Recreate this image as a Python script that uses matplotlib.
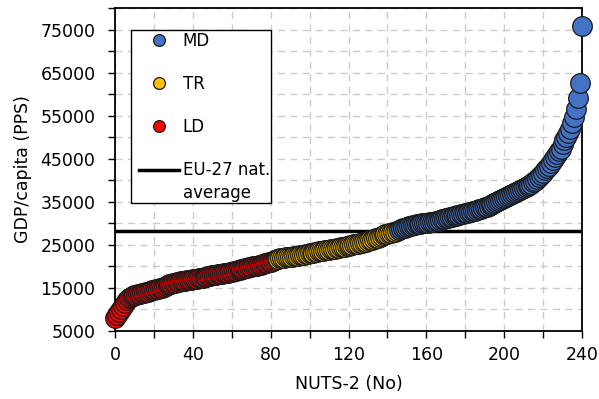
import matplotlib
matplotlib.use("Agg")
import numpy as np
import matplotlib.pyplot as plt
from matplotlib.ticker import MultipleLocator
from matplotlib.lines import Line2D
from matplotlib.legend_handler import HandlerLine2D

ld_values = [8000, 8800, 9500, 10200, 10900, 11600, 12200, 12700, 13000, 13200,
             13350, 13450, 13550, 13650, 13750, 13850, 14000, 14150, 14300, 14420,
             14550, 14650, 14800, 14950, 15080, 15200, 15400, 15600, 15800, 15950,
             16080, 16200, 16300, 16420, 16520, 16600, 16680, 16760, 16850, 16930,
             17000, 17080, 17150, 17230, 17300, 17400, 17500, 17600, 17700, 17800,
             17900, 17980, 18060, 18150, 18230, 18300, 18380, 18450, 18520, 18600,
             18720, 18850, 18980, 19100, 19200, 19300, 19420, 19550, 19680, 19800,
             19900, 20000, 20100, 20200, 20300, 20400, 20550, 20700, 20850, 20980,
             21100, 21300, 21500]
tr_values = [21700, 21780, 21850, 21920, 22000, 22070, 22140, 22200, 22280, 22360,
             22440, 22520, 22600, 22680, 22760, 22840, 22920, 23000, 23100, 23200,
             23300, 23400, 23500, 23580, 23660, 23740, 23820, 23900, 23980, 24060,
             24140, 24220, 24300, 24400, 24500, 24600, 24700, 24800, 24900, 25000,
             25100, 25200, 25300, 25420, 25540, 25660, 25780, 25900, 26060, 26220,
             26380, 26540, 26700, 26900, 27100, 27300, 27450, 27600, 27700, 27800,
             27900, 28050, 28200]
md_values = [28500, 28700, 28850, 29000, 29200, 29320, 29440, 29560, 29680, 29800,
             29860, 29920, 29980, 30040, 30100, 30180, 30260, 30340, 30420, 30500,
             30640, 30780, 30920, 31060, 31200, 31320, 31440, 31560, 31680, 31800,
             31900, 32000, 32100, 32200, 32300, 32420, 32540, 32660, 32780, 32900,
             33060, 33220, 33380, 33540, 33700, 33900, 34100, 34300, 34500, 34700,
             34920, 35140, 35360, 35580, 35800, 36040, 36280, 36520, 36760, 37000,
             37240, 37480, 37720, 37960, 38200, 38460, 38720, 38980, 39240, 39500,
             39900, 40300, 40700, 41250, 41800, 42300, 42800, 43400, 44000, 44700,
             45400, 46000, 46700, 47300, 48400, 49300, 50000, 51000, 52000, 53300,
             54700, 56500, 59000, 62700, 75900]
eu_average = 28300

groups = [("LD", ld_values, "#FF0000"), ("TR", tr_values, "#FFC000"), ("MD", md_values, "#4472C4")]

plt.rcParams['font.family'] = ['DejaVu Sans']
fs = 12.5


class ShiftHandler(HandlerLine2D):
    def __init__(self, dx=0.0, dy=0.0, trim=0.0, **kw):
        super().__init__(**kw)
        self.dx, self.dy, self.trim = dx, dy, trim

    def create_artists(self, legend, orig_handle, xdescent, ydescent, width, height, fontsize, trans):
        arts = super().create_artists(legend, orig_handle, xdescent, ydescent, width, height, fontsize, trans)
        for a in arts:
            if isinstance(a, Line2D):
                xd = np.asarray(a.get_xdata(), dtype=float)
                yd = np.asarray(a.get_ydata(), dtype=float)
                if self.trim and len(xd) > 1:
                    xd = np.linspace(xd.min() + self.trim, xd.max(), len(xd))
                a.set_xdata(xd + self.dx)
                a.set_ydata(yd + self.dy)
        return arts


fig = plt.figure(figsize=(5.99, 3.99), dpi=100)
ax = fig.add_axes([115/599, 1-331/399, 467/599, 323/399])

ax.axhline(eu_average, color='black', lw=2.5, zorder=2)

start = 0
for name, vals, col in groups:
    xs = list(range(start, start + len(vals)))
    for x, v in zip(xs, vals):
        ax.scatter([x], [v], s=200, color=col, edgecolors='#1a1a1a', linewidths=0.9, zorder=3, clip_on=False)
    start += len(vals)

ax.set_xlim(0, 240)
ax.set_ylim(5000, 80000)
ax.xaxis.set_major_locator(MultipleLocator(40))
ax.xaxis.set_minor_locator(MultipleLocator(20))
ax.set_yticks([5000, 15000, 25000, 35000, 45000, 55000, 65000, 75000])
ax.yaxis.set_minor_locator(MultipleLocator(5000))
ax.grid(True, which='both', color='#cccccc', linestyle=(0, (5, 4)), lw=1, zorder=0)
ax.set_axisbelow(True)
ax.tick_params(which='both', direction='out', length=5, width=1, labelsize=fs, colors='black')
ax.tick_params(axis='y', which='both', pad=9)
ax.tick_params(axis='x', which='both', pad=6)
for s in ax.spines.values():
    s.set_linewidth(1.3)

ax.set_xlabel("NUTS-2 (No)", fontsize=fs, labelpad=8)
ax.set_ylabel("GDP/capita (PPS)", fontsize=fs, labelpad=6)

marker_handles = [Line2D([], [], ls='none', marker='o', markersize=8.5, markerfacecolor=c,
                         markeredgecolor='#1a1a1a', markeredgewidth=0.9)
                  for c in ["#4472C4", "#FFC000", "#FF0000"]]
line_handle = Line2D([], [], color='black', lw=2.5)
handles = marker_handles + [line_handle]
labels = ["MD", "TR", "LD", "EU-27 nat.\naverage"]
hmap = {h: ShiftHandler(dx=2.5) for h in marker_handles}
hmap[line_handle] = ShiftHandler(dy=8.6, trim=5.0)
leg = ax.legend(handles, labels, loc='upper left', bbox_to_anchor=(0.034, 0.932), borderaxespad=0,
                fontsize=12, frameon=True, fancybox=False, edgecolor='black', framealpha=1,
                labelspacing=1.5, handlelength=2.8, handletextpad=0.2, borderpad=0.1,
                handler_map=hmap)
for t in leg.get_texts():
    t.set_linespacing(1.36)
leg.get_frame().set_linewidth(1.0)
leg.set_zorder(5)

fig.savefig("out.png", dpi=100)
